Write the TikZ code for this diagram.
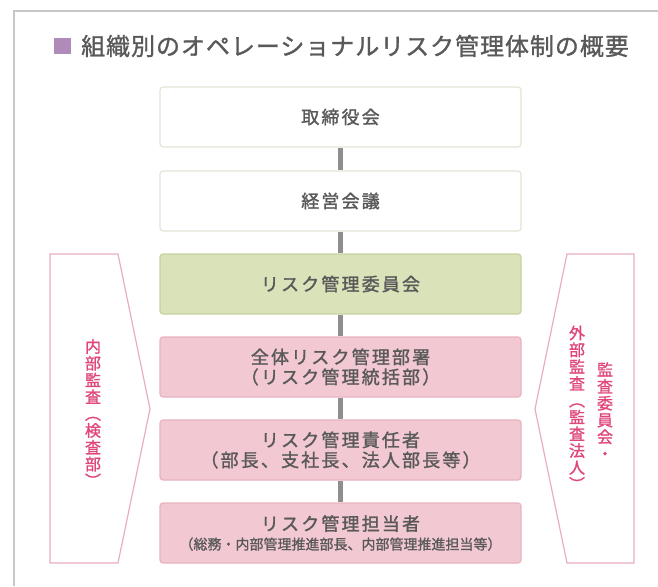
\documentclass[tikz,border=0pt]{standalone}
\usepackage{fontspec}
\newfontfamily\jp[FakeBold=1.2]{Noto Sans CJK JP}
\newfontfamily\jpw[LetterSpace=12,FakeBold=1.5]{Noto Sans CJK JP}
\newfontfamily\jpt[LetterSpace=4,FakeBold=1.2]{Noto Sans CJK JP}
\definecolor{framegray}{HTML}{C8C8CC}
\definecolor{titlesq}{HTML}{B08AB8}
\definecolor{txtgray}{HTML}{595959}
\definecolor{whiteedge}{HTML}{E6E4D4}
\definecolor{greenfill}{HTML}{D9E2B9}
\definecolor{greenedge}{HTML}{C6D2A0}
\definecolor{pinkfill}{HTML}{F2C9D2}
\definecolor{pinkedge}{HTML}{E8B2BF}
\definecolor{conngray}{HTML}{8E8E8E}
\definecolor{pentedge}{HTML}{E9ADC0}
\definecolor{penttext}{HTML}{E0457C}
\begin{document}
\begin{tikzpicture}[x=1pt,y=-1pt,
  orgbox/.style={draw, rounded corners=3pt, line width=1.2pt, minimum width=361pt,
    minimum height=60pt, inner sep=0pt, align=center, text=txtgray,
    font=\jpw\fontsize{18}{20}\selectfont},
  whitebox/.style={orgbox, draw=whiteedge, fill=white},
  greenbox/.style={orgbox, draw=greenedge, fill=greenfill},
  pinkbox/.style={orgbox, draw=pinkedge, fill=pinkfill},
  conn/.style={draw=conngray, line width=5pt},
  pent/.style={draw=pentedge, line width=1.2pt, fill=white},
  vtext/.style={text=penttext, align=center, inner sep=0pt,
    font=\jp\fontsize{16}{16.8}\selectfont}
]
\useasboundingbox (0,0) rectangle (658,586);
% outer frame
\draw[framegray, line width=1.5pt] (14,586) -- (14,11) -- (658,11);
% title
\fill[titlesq] (54,38) rectangle (71,54);
\node[anchor=west, inner sep=0pt, text=txtgray, font=\jpt\fontsize{24}{26}\selectfont] (title) at (81,46) {組織別のオペレーショナルリスク管理体制の概要};
% pentagons
\draw[pent] (50,254) -- (118,254) -- (150,409) -- (118,563) -- (50,563) -- cycle;
\draw[pent] (634,254) -- (567,254) -- (535,409) -- (567,563) -- (634,563) -- cycle;
\node[vtext] (left) at (93,413) {内\\部\\監\\査\\︵\\検\\査\\部\\︶};
\node[vtext] (right1) at (605,411) {監\\査\\委\\員\\会\\・};
\node[vtext] (right2) at (577,408) {外\\部\\監\\査\\︵\\監\\査\\法\\人\\︶};
% boxes
\node[whitebox] (n1) at (340.5,117) {取締役会};
\node[whitebox] (n2) at (340.5,201) {経営会議};
\node[greenbox] (n3) at (340.5,284) {リスク管理委員会};
\node[pinkbox] (n4) at (340.5,367) {全体リスク管理部署\\（リスク管理統括部）};
\node[pinkbox] (n5) at (340.5,450) {リスク管理責任者\\（部長、支社長、法人部長等）};
\node[pinkbox] (n6) at (340.5,533) {リスク管理担当者\\[-1pt]{\jp\fontsize{14}{15}\selectfont（総務・内部管理推進部長、内部管理推進担当等）}};
% connectors
\draw[conn] (n1.south) -- (n2.north);
\draw[conn] (n2.south) -- (n3.north);
\draw[conn] (n3.south) -- (n4.north);
\draw[conn] (n4.south) -- (n5.north);
\draw[conn] (n5.south) -- (n6.north);
\end{tikzpicture}
\end{document}
